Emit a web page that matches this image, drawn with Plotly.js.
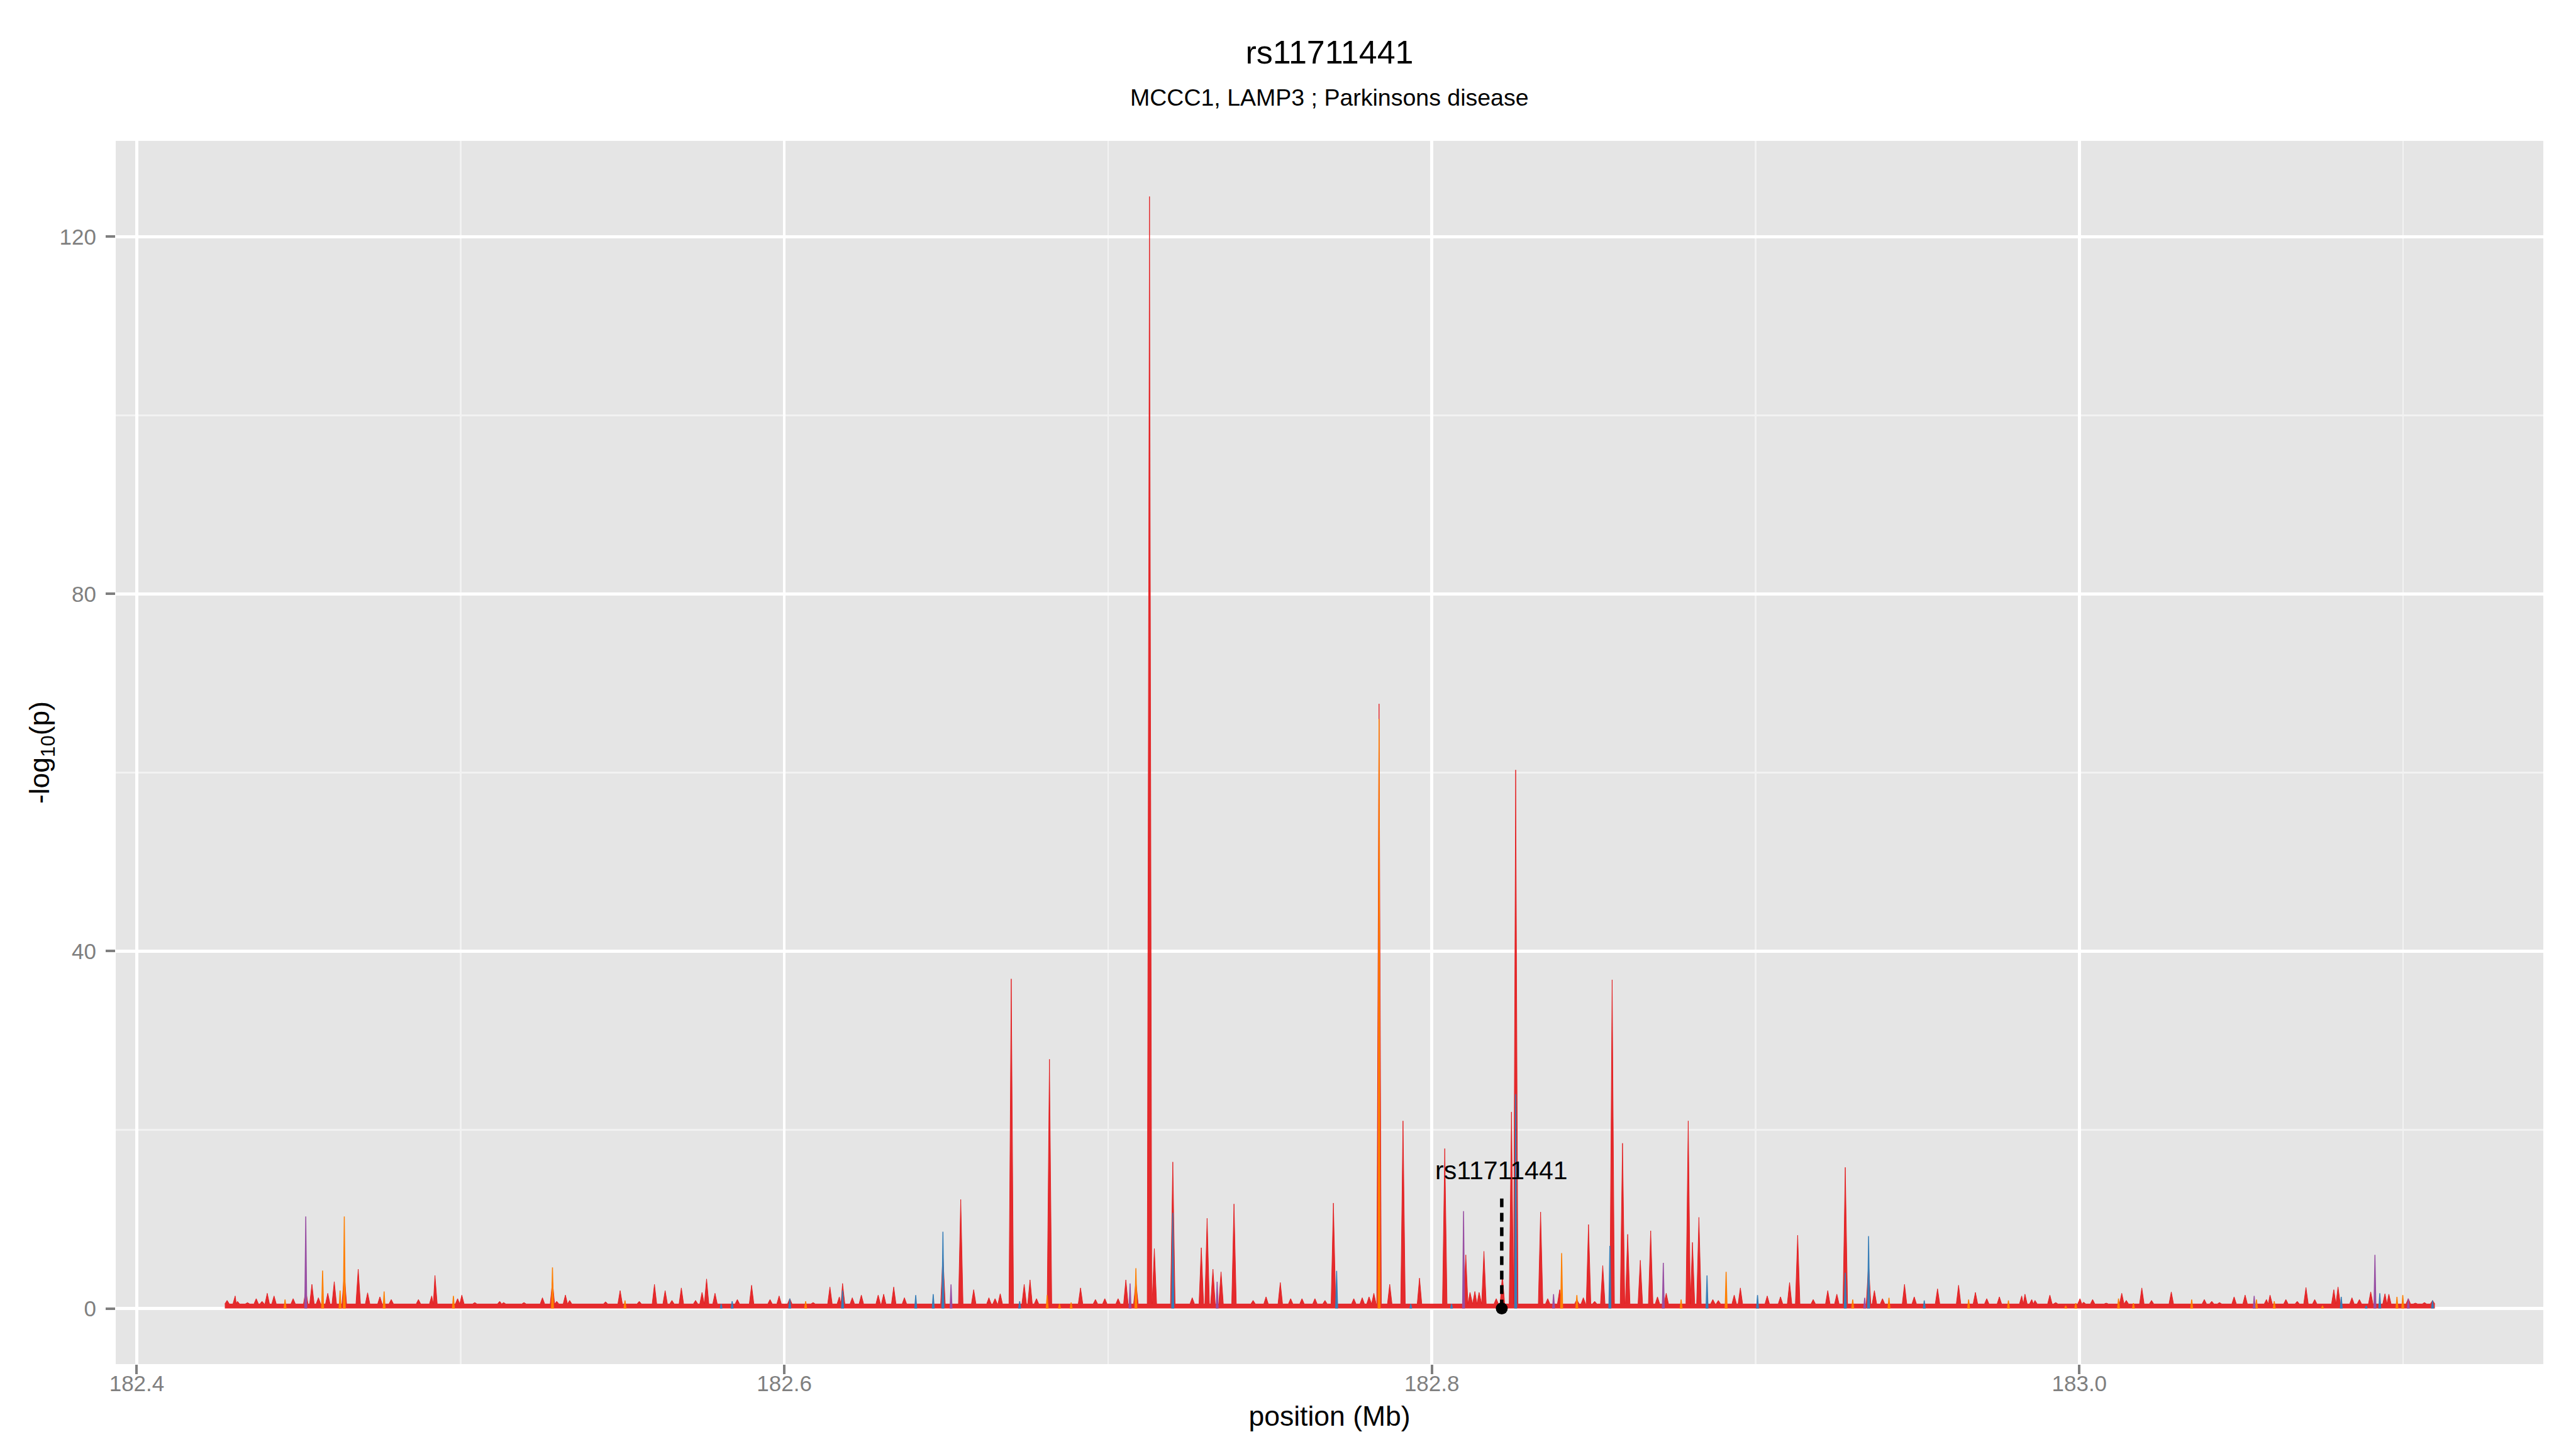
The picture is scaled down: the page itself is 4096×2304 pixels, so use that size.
<!DOCTYPE html>
<html>
<head>
<meta charset="utf-8">
<script src="https://cdn.plot.ly/plotly-3.0.1.min.js"></script>
<style>html,body{margin:0;padding:0;background:#fff;}#chart{width:4096px;height:2304px;}</style>
</head>
<body>
<div id="chart"></div>
<script>
// ---------- data ----------
const chartTitle = 'rs11711441';
const chartSubtitle = 'MCCC1, LAMP3 ; Parkinsons disease';
const xTitle = 'position (Mb)';
const yTitle = '-log<sub>10</sub>(p)';
const xTicks = [182.4, 182.6, 182.8, 183.0];
const xTickText = ['182.4', '182.6', '182.8', '183.0'];
const xMinor = [182.5, 182.7, 182.9, 183.1];
const yTicks = [0, 40, 80, 120];
const yTickText = ['0', '40', '80', '120'];
const yMinor = [20, 60, 100];

// red series: position (Mb) and -log10(p)
const redPos = [182.4279,182.4304,182.4311,182.4342,182.4369,182.4387,182.4403,182.4424,182.4483,182.4522,
182.4541,182.4561,182.4590,182.4610,182.4641,182.4684,182.4713,182.4751,182.4786,182.4870,
182.4911,182.4921,182.4991,182.5004,182.5044,182.5121,182.5133,182.5196,182.5253,182.5284,
182.5297,182.5324,182.5337,182.5448,182.5493,182.5552,182.5599,182.5632,182.5653,182.5682,
182.5726,182.5746,182.5760,182.5786,182.5855,182.5899,182.5956,182.5984,182.6017,182.6089,
182.6141,182.6170,182.6180,182.6210,182.6238,182.6290,182.6307,182.6338,182.6371,182.6490,
182.6545,182.6585,182.6632,182.6651,182.6667,182.6701,182.6741,182.6759,182.6779,182.6819,
182.6915,182.6961,182.6990,182.7031,182.7055,182.7086,182.7128,182.7143,182.7200,182.7260,
182.7288,182.7306,182.7324,182.7349,182.7389,182.7448,182.7488,182.7532,182.7564,182.7599,
182.7639,182.7670,182.7696,182.7759,182.7785,182.7806,182.7821,182.7837,182.7870,182.7911,
182.7962,182.8040,182.8105,182.8118,182.8133,182.8146,182.8161,182.8199,182.8218,182.8246,
182.8259,182.8336,182.8358,182.8395,182.8448,182.8468,182.8484,182.8503,182.8528,182.8557,
182.8589,182.8605,182.8644,182.8676,182.8697,182.8724,182.8792,182.8805,182.8825,182.8868,
182.8885,182.8934,182.8953,182.9036,182.9077,182.9105,182.9130,182.9178,182.9223,182.9251,
182.9277,182.9349,182.9367,182.9392,182.9460,182.9490,182.9562,182.9627,182.9679,182.9714,
182.9753,182.9822,182.9832,182.9853,182.9863,182.9883,182.9909,182.9927,183.0002,183.0013,
183.0041,183.0083,183.0131,183.0145,183.0193,183.0223,183.0256,183.0284,183.0309,183.0386,
183.0409,183.0433,183.0478,183.0512,183.0578,183.0589,183.0638,183.0673,183.0700,183.0727,
183.0786,183.0799,183.0842,183.0865,183.0900,183.0944,183.0956,183.1016,183.1038,183.1066,
183.1091];
const redVal = [0.9,1.4,0.8,0.65,1.1,0.8,1.7,1.4,1.1,2.0,
2.7,1.2,1.7,3.0,4.0,4.4,1.75,1.3,1.0,1.0,
1.4,3.7,1.1,1.5,0.66,0.8,0.66,0.66,1.2,3.0,
0.8,1.5,0.9,0.75,2.0,0.8,2.7,2.0,0.9,2.3,
0.9,1.8,3.3,1.7,1.0,2.6,1.0,1.4,1.1,0.66,
2.4,1.3,2.8,1.2,1.5,1.5,1.6,2.4,1.2,6.0,
12.2,2.1,1.2,1.1,1.65,36.9,2.7,3.2,1.1,27.9,
2.3,1.0,1.1,1.1,3.2,3.0,124.5,6.7,16.4,1.2,
6.8,10.1,4.4,4.1,11.7,0.9,1.3,2.9,1.1,1.1,
1.1,0.9,11.8,1.1,1.2,1.3,1.7,67.7,2.7,21.0,
3.4,17.9,6.0,1.8,1.9,1.8,6.4,1.1,3.7,22.0,
60.3,10.8,1.1,2.1,1.0,1.2,9.4,0.8,4.8,36.8,
18.5,8.3,5.4,8.7,1.3,1.7,21.0,7.4,10.2,1.0,
0.9,1.5,2.3,1.4,1.3,2.9,8.2,1.0,2.0,1.6,
15.8,5.0,2.0,1.1,2.7,1.3,2.2,2.6,1.8,1.1,
1.3,1.4,1.6,1.0,0.9,0.5,1.5,0.66,1.1,0.7,
1.0,0.6,1.7,0.9,2.3,0.9,0.5,1.85,0.5,1.0,
0.8,0.66,1.3,1.5,1.0,1.5,1.0,0.8,2.35,1.0,
2.1,2.4,1.2,1.0,1.85,1.65,1.6,1.1,0.6,0.66,
0.9];
const redFloor = 0.5;

// orange series
const orangePos = [182.4458,182.4574,182.4628,182.4641,182.4764,182.4978,182.5284,182.5508,182.6066,182.6812,
182.6850,182.6886,182.7086,182.7837,182.8401,182.8448,182.8770,182.8909,182.9300,182.9412,
182.9658,182.9781,182.9958,182.9989,183.0121,183.0167,183.0347,183.0547,183.0602,183.0751,
183.0981,183.0999];
const orangeVal = [1.0,4.25,2.0,10.3,1.9,1.4,4.6,0.9,0.8,1.5,
0.5,0.66,4.5,66.0,6.2,1.5,1.0,4.1,1.0,1.2,
1.0,0.9,0.3,0.6,1.1,0.6,1.0,1.0,0.8,0.3,
1.3,1.5];

// blue series
const bluePos = [182.5805,182.5839,182.6017,182.6180,182.6406,182.6460,182.6490,182.6727,182.7200,182.7706,
182.7935,182.8061,182.8259,182.8550,182.8850,182.9006,182.9277,182.9349,182.9521,183.0809,
183.0886,183.0928,183.1091];
const blueVal = [0.5,0.8,1.1,2.0,1.5,1.6,8.6,0.8,10.7,4.2,
0.5,0.5,24.0,7.0,3.7,1.5,4.0,8.1,0.9,1.3,
0.3,1.7,0.9];

// purple series
const purplePos = [182.4522,182.6515,182.7068,182.7337,182.8098,182.8376,182.8715,182.9337,183.0540,183.0913,183.1016];
const purpleVal = [10.3,2.7,2.8,3.0,10.9,1.6,5.1,1.2,1.4,6.0,1.1];

// highlighted SNP
const snpName = 'rs11711441';
const snpPos = 182.8216;
const snpVal = 0;
const snpLabelY = 15.45;
const snpLineTop = 12.3;

// ---------- build traces ----------
function areaSpikes(pos, val, w, floor) {
  const idx = pos.map((p, i) => i).sort((a, b) => pos[a] - pos[b]);
  const xs = [], ys = [];
  idx.forEach((i, k) => {
    const p = pos[i];
    const prev = k > 0 ? pos[idx[k - 1]] : -Infinity;
    const next = k < idx.length - 1 ? pos[idx[k + 1]] : Infinity;
    const left = Math.max(p - w, (prev + p) / 2);
    const right = Math.min(p + w, (p + next) / 2);
    xs.push(left, p, right);
    ys.push(floor, val[i], floor);
  });
  return {x: xs, y: ys};
}
function thinSpikes(pos, val, w) {
  const xs = [], ys = [];
  pos.forEach((p, i) => {
    xs.push(p - w, p, p + w, null);
    ys.push(0, val[i], 0, null);
  });
  return {x: xs, y: ys};
}

const red = areaSpikes(redPos, redVal, 0.0007, redFloor);
const orange = thinSpikes(orangePos, orangeVal, 0.0003);
const blue = thinSpikes(bluePos, blueVal, 0.0003);
const purple = thinSpikes(purplePos, purpleVal, 0.0003);

const traces = [
  {type: 'scatter', mode: 'lines', x: red.x, y: red.y, fill: 'tozeroy',
   fillcolor: 'rgba(228,26,28,0.92)', line: {color: 'rgba(228,26,28,0.92)', width: 1}, hoverinfo: 'skip'},
  {type: 'scatter', mode: 'lines', x: orange.x, y: orange.y, fill: 'toself',
   fillcolor: '#FF7F00', line: {color: '#FF7F00', width: 1.5}, hoverinfo: 'skip'},
  {type: 'scatter', mode: 'lines', x: blue.x, y: blue.y, fill: 'toself',
   fillcolor: '#377EB8', line: {color: '#377EB8', width: 1.5}, hoverinfo: 'skip'},
  {type: 'scatter', mode: 'lines', x: purple.x, y: purple.y, fill: 'toself',
   fillcolor: '#984EA3', line: {color: '#984EA3', width: 1.5}, hoverinfo: 'skip'},
  {type: 'scatter', mode: 'lines', x: [snpPos, snpPos], y: [snpVal, snpLineTop],
   line: {color: '#000000', width: 5.5, dash: '14px,9px'}, hoverinfo: 'skip'},
  {type: 'scatter', mode: 'markers', x: [snpPos], y: [snpVal],
   marker: {color: '#000000', size: 19}, hoverinfo: 'skip'}
];

const FONT = 'Liberation Sans, Arial, Helvetica, sans-serif';
const layout = {
  width: 4096, height: 2304,
  paper_bgcolor: '#FFFFFF', plot_bgcolor: '#E5E5E5',
  margin: {l: 184, r: 52, t: 224, b: 135, pad: 0},
  font: {family: FONT, color: '#000000'},
  showlegend: false,
  title: {text: chartTitle, font: {family: FONT, size: 52, color: '#000000'},
          x: 0.5, xref: 'paper', xanchor: 'center', y: 1 - 83 / 2304, yref: 'container', yanchor: 'middle'},
  xaxis: {
    range: [182.3935, 183.1433], tickmode: 'array', tickvals: xTicks, ticktext: xTickText,
    ticks: 'outside', ticklen: 15, tickwidth: 4, tickcolor: '#7F7F7F',
    tickfont: {family: FONT, size: 35, color: '#7F7F7F'}, ticklabelstandoff: -15,
    showgrid: true, gridcolor: '#FFFFFF', gridwidth: 4.5, zeroline: false, showline: false,
    minor: {tickmode: 'array', tickvals: xMinor, showgrid: true, gridcolor: '#F2F2F2', gridwidth: 2.5, ticks: ''},
    title: {text: xTitle, font: {family: FONT, size: 44.5, color: '#000000'}, standoff: 17},
    automargin: false
  },
  yaxis: {
    range: [-6.23, 130.73], tickmode: 'array', tickvals: yTicks, ticktext: yTickText,
    ticks: 'outside', ticklen: 15, tickwidth: 4, tickcolor: '#7F7F7F',
    tickfont: {family: FONT, size: 35, color: '#7F7F7F'}, ticklabelstandoff: 8,
    showgrid: true, gridcolor: '#FFFFFF', gridwidth: 4.5, zeroline: false, showline: false,
    minor: {tickmode: 'array', tickvals: yMinor, showgrid: true, gridcolor: '#F2F2F2', gridwidth: 2.5, ticks: ''},
    title: {text: yTitle, font: {family: FONT, size: 44.5, color: '#000000'}, standoff: 2},
    automargin: false
  },
  annotations: [
    {text: chartSubtitle, xref: 'paper', yref: 'paper', x: 0.5, y: 1 + (224 - 155) / 1945,
     xanchor: 'center', yanchor: 'middle', showarrow: false, font: {family: FONT, size: 37.5, color: '#000000'}},
    {text: snpName, xref: 'x', yref: 'y', x: snpPos, y: snpLabelY, xanchor: 'center', yanchor: 'middle',
     showarrow: false, font: {family: FONT, size: 41, color: '#000000'}}
  ]
};

Plotly.newPlot('chart', traces, layout, {staticPlot: true, displayModeBar: false});
</script>
</body>
</html>
